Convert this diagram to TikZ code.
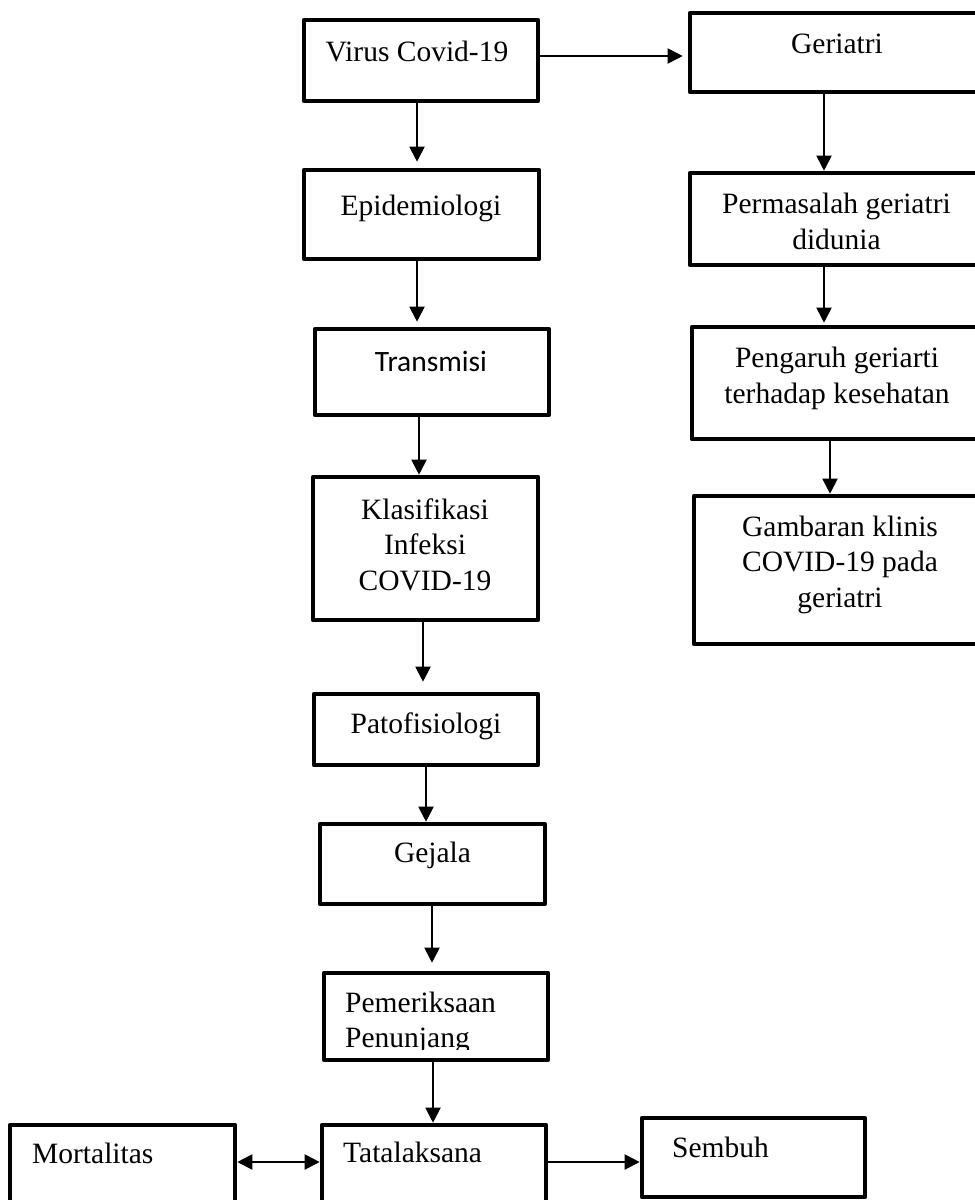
\documentclass[tikz,border=0pt]{standalone}
\usepackage{fontspec}
\setmainfont{Liberation Serif}
\newfontfamily\calibrifont{Carlito}
\usetikzlibrary{arrows.meta,calc}
\begin{document}
\begin{tikzpicture}[x=1pt,y=-1pt,
  box/.style={draw=black,line width=4.6pt,line join=round,rectangle,inner sep=0pt},
  lbl/.style={inner sep=0pt,anchor=base,align=center,font=\fontsize{29.5}{35.5}\selectfont},
  lbll/.style={inner sep=0pt,anchor=base west,align=left,font=\fontsize{29.5}{35}\selectfont},
  arr/.style={line width=2pt,-{Triangle[length=15pt,width=15pt]}},
  darr/.style={line width=2pt,{Triangle[length=15pt,width=15pt]}-{Triangle[length=15pt,width=15pt]}}]
\useasboundingbox (0,0) rectangle (975,1200);
% boxes
\node[box,minimum width=234pt,minimum height=81pt] (virus) at (421,60.5) {};
\node[box,minimum width=235pt,minimum height=89pt] (epi) at (421.5,214.5) {};
\node[box,minimum width=234pt,minimum height=86pt] (trans) at (432,372) {};
\node[box,minimum width=225pt,minimum height=143pt] (klas) at (425.5,548.5) {};
\node[box,minimum width=224pt,minimum height=71pt] (pato) at (426,729.5) {};
\node[box,minimum width=225pt,minimum height=80pt] (gejala) at (432.5,864) {};
\node[box,minimum width=224pt,minimum height=87pt] (pem) at (436,1016.5) {};
\node[box,minimum width=224pt,minimum height=135pt] (tata) at (434,1192.5) {};
\node[box,minimum width=225pt,minimum height=135pt] (mort) at (122.5,1192.5) {};
\node[box,minimum width=223pt,minimum height=79pt] (sembuh) at (753.5,1157.5) {};
\node[box,minimum width=310pt,minimum height=79pt] (geriatri) at (845,52.5) {};
\node[box,minimum width=310pt,minimum height=92pt] (perm) at (845,219) {};
\node[box,minimum width=308pt,minimum height=112pt] (peng) at (846,383) {};
\node[box,minimum width=306pt,minimum height=148pt] (gamb) at (847,570) {};
% texts
\node[lbl] (tvirus) at (417,61) {Virus Covid-19};
\node[lbl] (tepi) at (421,215) {Epidemiologi};
\node[lbl,font=\fontsize{29.5}{35}\calibrifont] (ttrans) at (431,371) {Transmisi};
\node[lbl] (tklas) at (425,590) {Klasifikasi\\Infeksi\\COVID-19};
\node[lbl] (tpato) at (426,733) {Patofisiologi};
\node[lbl] (tgejala) at (432.5,862) {Gejala};
\begin{scope}
\clip ($(pem.north west)+(0,2)$) rectangle ($(pem.south east)+(0,-13)$);
\node[lbll] (tpem) at (345,1047) {Pemeriksaan\\Penunjang};
\end{scope}
\node[lbll] (ttata) at (343,1162) {Tatalaksana};
\node[lbll] (tmort) at (32,1163) {Mortalitas};
\node[lbll] (tsembuh) at (672,1157) {Sembuh};
\node[lbl] (tgeriatri) at (837,53) {Geriatri};
\node[lbl] (tperm) at (836.5,249) {Permasalah geriatri\\didunia};
\node[lbl] (tpeng) at (837,403) {Pengaruh geriarti\\terhadap kesehatan};
\node[lbl] (tgamb) at (840,607) {Gambaran klinis\\COVID-19 pada\\geriatri};
% connectors
\coordinate (c1) at ($(virus.south)+(-4,0)$);
\draw[arr,shorten >=6pt] (c1) -- (c1 |- epi.north);
\coordinate (c2) at ($(virus.east)+(0,-4.5)$);
\draw[arr,shorten >=5pt] (c2) -- (c2 -| geriatri.west);
\coordinate (c3) at ($(epi.south)+(-4.5,0)$);
\draw[arr,shorten >=5pt] (c3) -- (c3 |- trans.north);
\coordinate (c4) at ($(trans.south)+(-13,0)$);
\draw[arr] (c4) -- (c4 |- klas.north);
\coordinate (c5) at ($(klas.south)+(-2.5,0)$);
\draw[arr,shorten >=10pt] (c5) -- (c5 |- pato.north);
\coordinate (c6) at (pato.south);
\draw[arr] (c6) -- (c6 |- gejala.north);
\coordinate (c7) at ($(gejala.south)+(-0.5,0)$);
\draw[arr,shorten >=8pt] (c7) -- (c7 |- pem.north);
\coordinate (c8) at ($(pem.south)+(-3,0)$);
\draw[arr] (c8) -- (c8 |- tata.north);
\coordinate (c9) at ($(mort.east)+(0,-30.5)$);
\draw[darr] (c9) -- (c9 -| tata.west);
\coordinate (c10) at ($(tata.east)+(0,-30.5)$);
\draw[arr] (c10) -- (c10 -| sembuh.west);
\coordinate (c11) at ($(geriatri.south)+(-21,0)$);
\draw[arr] (c11) -- (c11 |- perm.north);
\coordinate (c12) at ($(perm.south)+(-21,0)$);
\draw[arr,shorten >=2pt] (c12) -- (c12 |- peng.north);
\coordinate (c13) at ($(peng.south)+(-16,0)$);
\draw[arr] (c13) -- (c13 |- gamb.north);
\end{tikzpicture}
\end{document}
